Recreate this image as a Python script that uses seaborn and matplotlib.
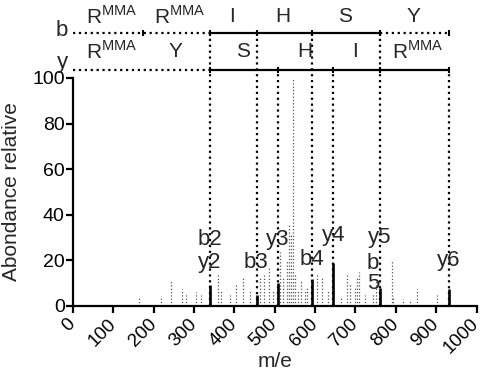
import matplotlib
matplotlib.use('Agg')
import matplotlib.pyplot as plt
import seaborn as sns

# spectrum: small unassigned peaks (grey dotted)
peak_mz = [163, 218, 243, 270, 280, 306, 317, 359, 368, 389, 403, 421, 438, 463, 473,
           485, 495, 512, 520, 530, 535, 540, 545, 550, 557, 564, 574, 579, 604, 616,
           631, 663, 678, 686, 698, 703, 710, 723, 743, 752, 790, 793, 817, 834, 852, 901]
peak_int = [4, 4.5, 11, 7.5, 5.5, 6, 5, 14, 7, 5, 10, 12.5, 7, 12.5, 14,
            17, 7, 23.5, 12.5, 20, 36, 32, 100, 14, 7, 11, 7, 8, 14, 12.5,
            7, 4, 14, 10, 8, 12.5, 15, 5, 5.5, 11, 20, 3.5, 3, 2, 7.5, 5]

# assigned fragment ions (solid black)
ion_mz = [339, 455, 507, 592, 644, 762, 931]
ion_int = [9, 5, 10, 12, 19, 8, 7.5]

# fragment labels
ion_labels = ['b2', 'y2', 'b3', 'y3', 'b4', 'y4', 'y5', 'b', '5', 'y6']
label_mz = [339, 339, 453, 508, 592, 647, 761, 743, 745, 931]
label_y = [29, 19, 19, 29, 20.5, 31, 30, 18.5, 10, 20]

# sequence ladders
b_cuts = [339, 455, 592, 762]
y_cuts = [507, 644, 931]
b_residues = ['R$^{\\mathrm{MMA}}$', 'R$^{\\mathrm{MMA}}$', 'I', 'H', 'S', 'Y']
b_res_x = [97, 265, 394, 520, 674, 843]
y_residues = ['R$^{\\mathrm{MMA}}$', 'Y', 'S', 'H', 'I', 'R$^{\\mathrm{MMA}}$']
y_res_x = [97, 253, 421, 575, 699, 855]

sns.set_theme(style='ticks')
plt.rcParams['font.family'] = ['Liberation Sans', 'DejaVu Sans']
plt.rcParams['mathtext.fontset'] = 'custom'
plt.rcParams['mathtext.rm'] = 'Liberation Sans'

fig = plt.figure(figsize=(4.85, 3.75), dpi=100)
ax = fig.add_axes([0.1505, 0.184, 0.832, 0.816])
ax.set_facecolor('white')

b_lev, y_lev = 119.7, 103.5

# spectrum peaks
ax.vlines(peak_mz, 0, peak_int, colors='#555555', linestyles=':', linewidth=0.9)
ax.vlines(ion_mz, 0, ion_int, colors='black', linewidth=1.9)

# vertical guide lines
ax.vlines(b_cuts, 0, b_lev, colors='black', linestyles=':', linewidth=1.6, clip_on=False)
ax.vlines(y_cuts, 0, y_lev, colors='black', linestyles=':', linewidth=1.6, clip_on=False)

# b ladder
ax.plot([0, 339], [b_lev, b_lev], ':', color='black', lw=1.6, clip_on=False)
ax.plot([339, 762], [b_lev, b_lev], '-', color='black', lw=1.6, clip_on=False)
ax.plot([762, 931], [b_lev, b_lev], ':', color='black', lw=1.6, clip_on=False)
ax.plot([173, 339, 455, 592, 762, 931], [b_lev] * 6, '|', color='black', ms=4, mew=1.5, clip_on=False)
# y ladder
ax.plot([0, 339], [y_lev, y_lev], ':', color='black', lw=1.6, clip_on=False)
ax.plot([339, 931], [y_lev, y_lev], '-', color='black', lw=1.6, clip_on=False)
ax.plot([339, 507, 644, 762, 931], [y_lev] * 5, '|', color='black', ms=4, mew=1.5, clip_on=False)

ax.text(-27, b_lev + 1, 'b', fontsize=16, ha='center', va='center', clip_on=False)
ax.text(-27, y_lev + 3.5, 'y', fontsize=16, ha='center', va='center', clip_on=False)

for lab, x in zip(b_residues, b_res_x):
    ax.text(x, 127, lab, fontsize=15, ha='center', va='center')
for lab, x in zip(y_residues, y_res_x):
    ax.text(x, 111.5, lab, fontsize=15, ha='center', va='center')

for lab, x, y in zip(ion_labels, label_mz, label_y):
    ax.text(x, y, lab, fontsize=16, ha='center', va='center')

ax.set_xlim(0, 1000)
ax.set_ylim(0, 134.2)
ax.set_xticks(range(0, 1001, 100))
ax.set_yticks(range(0, 101, 20))
ax.spines['left'].set_bounds(0, 100)
ax.spines['bottom'].set_bounds(0, 1000)
sns.despine(ax=ax)
for s in ['left', 'bottom']:
    ax.spines[s].set_linewidth(1.6)
    ax.spines[s].set_color('black')
ax.tick_params(axis='both', direction='out', length=5, width=1.6, colors='black', labelsize=14)
ax.tick_params(axis='x', pad=6, labelsize=13.5)
ax.tick_params(axis='y', pad=1)
plt.setp(ax.get_xticklabels(), rotation=45, ha='right', va='center', rotation_mode='anchor')

ax.set_xlabel('m/e', fontsize=15)
ax.xaxis.set_label_coords(0.5, -0.183)
ax.xaxis.label.set_va('center')
ax.set_ylabel('Abondance relative', fontsize=15)
ax.yaxis.set_label_coords(-0.13, 100 / 134.2 / 2)

fig.savefig('out.png', dpi=100)
